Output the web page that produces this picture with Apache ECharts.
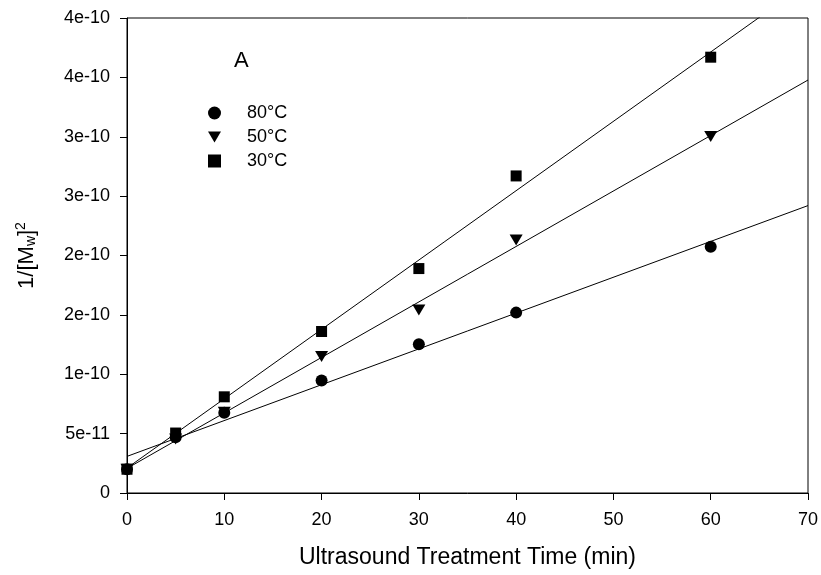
<!DOCTYPE html>
<html><head><meta charset="utf-8">
<script src="https://cdn.jsdelivr.net/npm/echarts@6/dist/echarts.min.js"></script>
<style>html,body{margin:0;padding:0;background:#fff}#c{width:821px;height:575px}</style>
</head><body><div id="c"></div>
<script>
// ---- data ----
const times = [0, 5, 10, 20, 30, 40, 60];
const seriesNames = ['80°C', '50°C', '30°C'];
const v80 = [2.0e-11, 4.7e-11, 6.75e-11, 9.47e-11, 1.253e-10, 1.519e-10, 2.073e-10];
const v50 = [2.0e-11, 4.54e-11, 6.8e-11, 1.15e-10, 1.542e-10, 2.13e-10, 3.003e-10];
const v30 = [2.0e-11, 5.05e-11, 8.1e-11, 1.36e-10, 1.89e-10, 2.67e-10, 3.67e-10];
const xTickValues = [0, 10, 20, 30, 40, 50, 60, 70];
const yTickLabels = ['0', '5e-11', '1e-10', '2e-10', '2e-10', '3e-10', '3e-10', '4e-10', '4e-10'];
const panelLabel = 'A';

// ---- helpers ----
const FONT = '"Liberation Sans", Arial, sans-serif';
const downTri = 'path://M0,0L12,0L6,10Z';
const symbols = ['circle', downTri, 'rect'];
const symbolSizes = [12, [13, 11], 11];
const allValues = [v80, v50, v30];
const xMin = xTickValues[0], xMax = xTickValues[xTickValues.length - 1];
const yStep = 5e-11;

function fit(xs, ys) {
  const n = xs.length;
  const mx = xs.reduce((a, b) => a + b, 0) / n;
  const my = ys.reduce((a, b) => a + b, 0) / n;
  let sxx = 0, sxy = 0;
  for (let i = 0; i < n; i++) { sxx += (xs[i] - mx) ** 2; sxy += (xs[i] - mx) * (ys[i] - my); }
  const m = sxy / sxx, b = my - m * mx;
  return [[xMin, b + m * xMin], [xMax, b + m * xMax]];
}

const series = [];
allValues.forEach((vals, i) => {
  series.push({
    name: 'fit' + i, type: 'line', data: fit(times, vals), symbol: 'none', silent: true,
    lineStyle: { color: '#000', width: 1, opacity: 1 }, clip: true, z: 2, animation: false
  });
});
allValues.forEach((vals, i) => {
  series.push({
    name: seriesNames[i], type: 'scatter', data: times.map((t, j) => [t, vals[j]]),
    symbol: symbols[i], symbolSize: symbolSizes[i], itemStyle: { color: '#000', opacity: 1 },
    z: 3, animation: false
  });
});

const chart = echarts.init(document.getElementById('c'), null, { renderer: 'canvas' });
chart.setOption({
  animation: false,
  backgroundColor: '#fff',
  title: { text: panelLabel, left: 234, top: 50, padding: 0,
    textStyle: { fontFamily: FONT, fontSize: 22, fontWeight: 'normal', color: '#000' } },
  legend: {
    orient: 'vertical', left: 208, top: 104, padding: 0, itemWidth: 13, itemHeight: 13, itemGap: 6,
    data: seriesNames.map((n, i) => ({ name: n, icon: i === 1 ? downTri : symbols[i],
      itemStyle: { color: '#000', opacity: 1 } })),
    textStyle: { fontFamily: FONT, fontSize: 18, color: '#000', padding: [0, 0, 0, 21] },
    selectedMode: false
  },
  grid: { left: 127, right: 13, top: 18, bottom: 82, show: true, borderColor: '#000', borderWidth: 1,
    containLabel: false, outerBoundsMode: 'none' },
  xAxis: {
    type: 'value', min: xMin, max: xMax, interval: 10,
    name: 'Ultrasound Treatment Time (min)', nameLocation: 'middle', nameGap: 53,
    nameTextStyle: { fontFamily: FONT, fontSize: 23, color: '#000' },
    axisLine: { lineStyle: { color: '#000', width: 1 } },
    axisTick: { show: true, inside: false, length: 7, lineStyle: { color: '#000' } },
    axisLabel: { fontFamily: FONT, fontSize: 18, color: '#000', margin: 18 },
    splitLine: { show: false }
  },
  yAxis: {
    type: 'value', min: 0, max: yStep * (yTickLabels.length - 1), interval: yStep,
    name: '{a|1/[M}{sub|w}{a|]}{sup|2}', nameLocation: 'middle', nameGap: 85, nameRotate: 90,
    nameTextStyle: {
      fontFamily: FONT, color: '#000',
      rich: {
        a: { fontFamily: FONT, fontSize: 22, color: '#000', lineHeight: 30, verticalAlign: 'middle' },
        sub: { fontFamily: FONT, fontSize: 14, color: '#000', lineHeight: 30, verticalAlign: 'bottom', padding: [0, 0, 4, 0] },
        sup: { fontFamily: FONT, fontSize: 14, color: '#000', lineHeight: 30, verticalAlign: 'top', padding: [2, 0, 0, 0] }
      }
    },
    axisLine: { show: true, lineStyle: { color: '#000', width: 1 } },
    axisTick: { show: true, inside: false, length: 7, lineStyle: { color: '#000' } },
    axisLabel: { fontFamily: FONT, fontSize: 18, color: '#000', margin: 17,
      formatter: v => yTickLabels[Math.round(v / yStep)] },
    splitLine: { show: false }
  },
  series: series
});
</script></body></html>
